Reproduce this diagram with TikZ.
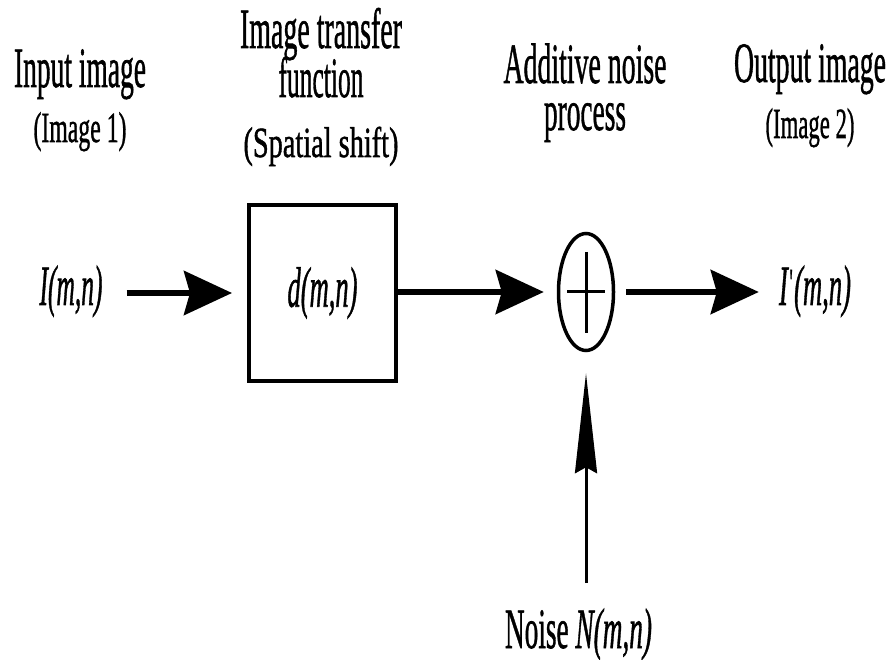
\documentclass[tikz,border=0pt]{standalone}
\usepackage{fontspec}
\setmainfont{Liberation Serif}
\newfontfamily\heavyfont[FakeBold=1.2]{Liberation Serif}
\usepackage{graphicx}
\usetikzlibrary{arrows.meta,shapes.geometric}
\newcommand\fitw[2]{\resizebox{#1pt}{\height}{#2}}
\newcommand\subsize{\fontsize{43}{43}\selectfont}
% stacked centred lines; baseline of the whole = baseline of first line
\newcommand\stacklines[2]{\vtop{\baselineskip=#1pt\lineskiplimit=-1000pt\lineskip=0pt
  \halign{\hfil##\hfil\cr#2\crcr}}}
\begin{document}
\begin{tikzpicture}[x=1pt,y=-1pt,
  lbl/.style={inner sep=0pt, anchor=base, font=\heavyfont\fontsize{57}{57}\selectfont},
  mathlbl/.style={inner sep=0pt, anchor=base, font=\heavyfont\fontsize{57}{57}\selectfont\itshape},
  blockbox/.style={draw, line width=4pt, minimum width=147pt, minimum height=176pt, inner sep=0pt,
    font=\heavyfont\fontsize{57}{57}\selectfont\itshape},
  sumnode/.style={draw, ellipse, line width=3.5pt, minimum width=55pt, minimum height=117pt, inner sep=0pt},
  arr/.style={line width=6pt, -{Stealth[length=48pt,width=44pt,inset=6pt]}},
  varr/.style={line width=3pt, -{Stealth[length=100pt,width=22pt,inset=6pt]}},
  plusline/.style={line width=3pt}
]
\fill[white] (0,0) rectangle (894,660);
\useasboundingbox (0,0) rectangle (894,660);

% top labels
\node[lbl] (inlbl) at (80,87) {\stacklines{55}{\fitw{132}{Input image}\cr
  {\subsize\fitw{93}{(Image 1)}}}};
\node[lbl] (tflbl) at (321,48) {\stacklines{49}{\fitw{162}{Image transfer}\cr
  \fitw{85}{function}\cr\noalign{\kern11pt}
  {\subsize\fitw{155}{(Spatial shift)}}}};
\node[lbl] (anlbl) at (585,83) {\stacklines{47}{\fitw{163}{Additive noise}\cr
  \fitw{82}{process}}};
\node[lbl] (outlbl) at (810,82) {\stacklines{56}{\fitw{152}{Output image}\cr
  {\subsize\fitw{89}{(Image 2)}}}};

% signal row
\node[mathlbl] (Im) at (71,305) {\fitw{63}{I(m,n)}};
\node[blockbox] (box) at (322.5,293) {\fitw{70}{d(m,n)}};
\node[sumnode] (sum) at (586,292) {};
\draw[plusline] ([xshift=-19pt]sum.center) -- ([xshift=19pt]sum.center);
\draw[plusline] ([yshift=40pt]sum.center) -- ([yshift=-41pt]sum.center);
\node[mathlbl] (Iout) at (815,305) {\fitw{72}{I\kern0.06em\textsuperscript{\upshape\textquotesingle}\kern0.04em(m,n)}};

% noise
\node[lbl] (noise) at (578.5,648) {\fitw{147}{Noise \textit{N(m,n)}}};
\coordinate (nz) at (586,583);

% connectors
\draw[arr, shorten <=24pt, shorten >=15pt] (Im.east |- box.west) -- (box.west);
\draw[arr, shorten >=13pt] (box.east |- sum.west) -- (sum.west);
\draw[arr, shorten <=11pt, shorten >=20pt] (sum.east) -- (sum.east -| Iout.west);
\draw[varr, shorten >=21pt] (nz) -- (sum.south);
\end{tikzpicture}
\end{document}
